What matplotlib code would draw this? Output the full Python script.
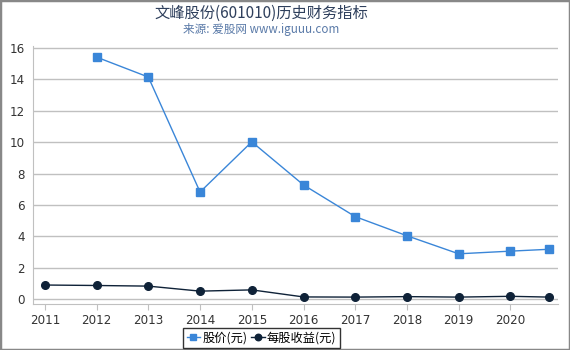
import matplotlib.pyplot as plt
from matplotlib.patches import Rectangle

plt.rcParams['font.family'] = ['Noto Sans CJK SC', 'DejaVu Sans']

years = [2011, 2012, 2013, 2014, 2015, 2016, 2017, 2018, 2019, 2020, 2020.75]
price = [None, 15.42, 14.15, 6.82, 10.02, 7.27, 5.25, 4.03, 2.88, 3.05, 3.17]
eps = [0.89, 0.86, 0.82, 0.50, 0.58, 0.13, 0.12, 0.15, 0.12, 0.17, 0.12]
tick_years = [2011, 2012, 2013, 2014, 2015, 2016, 2017, 2018, 2019, 2020]

fig = plt.figure(figsize=(5.7, 3.5), dpi=100)
ax = fig.add_axes([33 / 570, 46 / 350, 525 / 570, 258 / 350])

px = [y for y, p in zip(years, price) if p is not None]
pv = [p for p in price if p is not None]
ax.plot(px, pv, color='#3a86d8', lw=1, marker='s', ms=5.5, label='股价(元)', zorder=5)
ax.plot(years, eps, color='#0f2238', lw=1, marker='o', ms=5.5, label='每股收益(元)', zorder=6)

ax.set_xlim(2010.77, 2020.92)
ax.set_ylim(-0.32, 16.13)
ax.set_yticks(range(0, 17, 2))
ax.set_xticks(tick_years)
ax.set_xticklabels([str(t) for t in tick_years])
for lab in ax.get_xticklabels() + ax.get_yticklabels():
    lab.set_family('DejaVu Sans')
ax.grid(axis='y', color='#c0c0c0', lw=1)
ax.set_axisbelow(True)
for s in ['top', 'right']:
    ax.spines[s].set_visible(False)
ax.spines['left'].set_color('#c0c0c0')
ax.spines['bottom'].set_color('#c0c0c0')
ax.tick_params(axis='both', colors='#c0c0c0', labelcolor='#333333', labelsize=8.6, length=4)
ax.tick_params(axis='y', length=0, pad=6)

fig.text(261 / 570, 1 - 13 / 350, '文峰股份(601010)历史财务指标', ha='center', va='center',
         fontsize=11, color='#2e3f5c')
fig.text(261 / 570, 1 - 29 / 350, '来源: 爱股网 www.iguuu.com', ha='center', va='center',
         fontsize=8.4, color='#5a7aa8')

leg = fig.legend(loc='center', bbox_to_anchor=(261.5 / 570, 1 - 338 / 350), ncol=2,
                 fontsize=8.8, frameon=True, fancybox=False, handlelength=1.1,
                 handletextpad=0.2, columnspacing=0.3, borderpad=0.25, markerscale=0.85,
                 borderaxespad=0)
leg.get_frame().set_edgecolor('black')
leg.get_frame().set_linewidth(1)

fig.patches.append(Rectangle((0, 0), 1, 1, transform=fig.transFigure, fill=False,
                             edgecolor='#888888', lw=2.5))

fig.savefig('out.png', dpi=100)
